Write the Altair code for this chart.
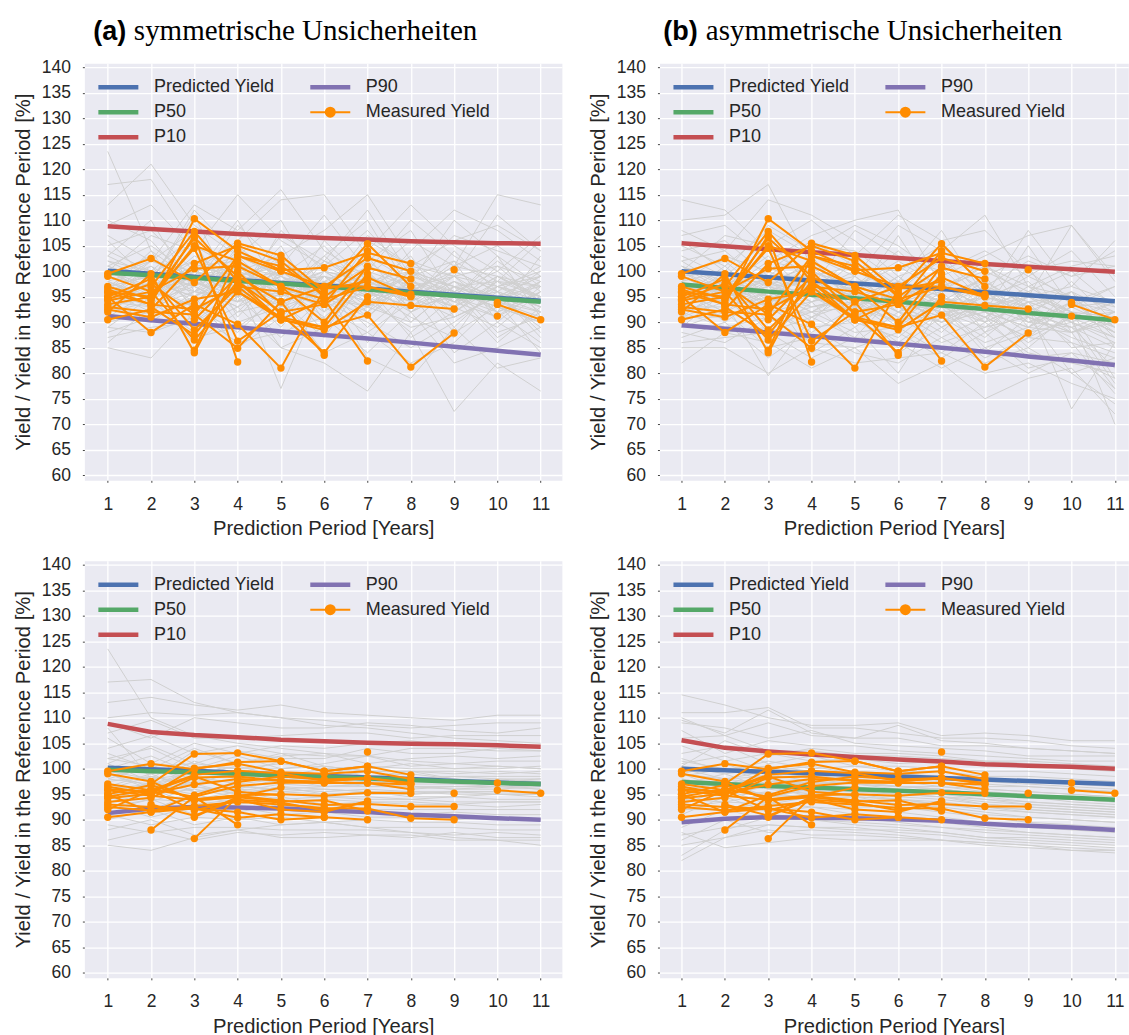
import altair as alt
import pandas as pd

YEARS = list(range(1, 12))
Y_TICKS = list(range(60, 145, 5))

# ---------------- percentile / prediction curves ----------------
PRED_A = [100.1, 99.5, 98.9, 98.3, 97.7, 97.2, 96.6, 96.0, 95.4, 94.8, 94.2]
P50_A = [99.7, 99.2, 98.7, 98.1, 97.6, 97.0, 96.4, 95.8, 95.2, 94.6, 94.0]
P10_A = [108.8, 108.3, 107.8, 107.3, 106.9, 106.5, 106.2, 105.9, 105.7, 105.5, 105.4]
P90_A = [91.2, 90.4, 89.7, 89.0, 88.2, 87.5, 86.8, 86.0, 85.2, 84.4, 83.6]

PRED_B = [100.0, 99.4, 98.8, 98.2, 97.6, 97.1, 96.5, 95.9, 95.3, 94.7, 94.1]
P50_B = [97.4, 96.7, 96.0, 95.4, 94.7, 94.0, 93.3, 92.6, 91.8, 91.1, 90.4]
P10_B = [105.5, 104.9, 104.3, 103.7, 103.2, 102.6, 102.0, 101.4, 100.9, 100.4, 99.9]
P90_B = [89.4, 88.7, 88.0, 87.3, 86.5, 85.8, 85.0, 84.2, 83.3, 82.5, 81.6]

PRED_C = [100.2, 99.9, 99.6, 99.2, 98.9, 98.6, 98.3, 98.0, 97.6, 97.3, 97.0]
P50_C = [99.8, 99.5, 99.3, 99.0, 98.7, 98.4, 98.1, 97.8, 97.5, 97.2, 97.0]
P10_C = [108.8, 107.2, 106.6, 106.2, 105.7, 105.4, 105.1, 104.9, 104.8, 104.6, 104.3]
P90_C = [91.3, 92.2, 92.5, 92.4, 92.2, 91.8, 91.5, 91.0, 90.7, 90.3, 90.0]

PRED_D = [100.0, 99.7, 99.4, 99.1, 98.8, 98.5, 98.2, 97.9, 97.6, 97.3, 97.0]
P50_D = [97.4, 97.0, 96.6, 96.3, 96.0, 95.7, 95.4, 95.0, 94.6, 94.3, 93.9]
P10_D = [105.6, 104.1, 103.4, 102.8, 102.3, 101.8, 101.4, 100.9, 100.6, 100.4, 100.0]
P90_D = [89.5, 90.2, 90.5, 90.4, 90.3, 90.1, 89.8, 89.2, 88.8, 88.5, 88.0]

# ---------------- simulated yields (grey) ----------------
SIM_A = [
    [123.5, 104, 98, 101, 95, 99, 97, 92, 96, 93, 90],
    [117, 118, 105, 100, 103, 96, 101, 98, 94, 99, 95],
    [113, 121, 109, 103, 99, 105, 96, 100, 97, 94, 98],
    [109, 113, 104, 115, 106, 101, 108, 99, 102, 97, 100],
    [107, 102, 113, 108, 116, 104, 99, 106, 101, 115, 113],
    [105, 108, 100, 106, 114, 115, 103, 98, 110, 103, 97],
    [104, 100, 107, 97, 103, 108, 115, 102, 99, 111, 104],
    [103, 110, 96, 104, 99, 94, 104, 113, 105, 100, 107],
    [102, 98, 111, 94, 108, 100, 95, 104, 112, 108, 102],
    [101, 105, 99, 110, 96, 103, 110, 96, 101, 105, 99],
    [100, 96, 103, 99, 101, 97, 102, 108, 95, 102, 96],
    [99, 103, 95, 102, 93, 106, 98, 94, 104, 96, 101],
    [98, 94, 101, 96, 105, 92, 106, 101, 99, 92, 103],
    [98, 101, 93, 105, 98, 99, 93, 97, 93, 101, 94],
    [97, 99, 106, 91, 100, 95, 100, 90, 97, 98, 92],
    [97, 95, 98, 100, 92, 102, 97, 103, 91, 95, 99],
    [96, 104, 92, 97, 104, 90, 99, 95, 102, 90, 97],
    [96, 92, 100, 103, 95, 98, 91, 99, 89, 97, 93],
    [95, 100, 97, 93, 101, 94, 103, 92, 98, 94, 100],
    [95, 97, 102, 98, 90, 100, 95, 88, 95, 103, 91],
    [94, 93, 96, 101, 97, 91, 98, 100, 93, 89, 96],
    [94, 99, 90, 95, 102, 97, 89, 96, 100, 96, 88],
    [93, 95, 99, 92, 94, 103, 96, 91, 87, 99, 94],
    [93, 91, 94, 99, 98, 88, 100, 97, 94, 91, 98],
    [92, 97, 101, 90, 93, 96, 92, 102, 96, 87, 92],
    [92, 94, 88, 97, 89, 99, 94, 89, 91, 95, 89],
    [91, 90, 96, 94, 99, 93, 88, 94, 98, 92, 86],
    [91, 96, 93, 88, 96, 90, 97, 87, 92, 98, 95],
    [90, 92, 98, 95, 87, 95, 91, 98, 88, 93, 90],
    [89, 88, 91, 100, 94, 87, 99, 93, 95, 86, 93],
    [89, 95, 86, 92, 100, 94, 90, 85, 90, 96, 87],
    [88, 91, 95, 85, 91, 98, 86, 96, 84, 90, 85],
    [87, 89, 90, 97, 85, 89, 93, 90, 97, 88, 91],
    [86, 93, 87, 89, 95, 84, 88, 82, 86, 94, 84],
    [85, 83, 92, 86, 88, 91, 84, 92, 82, 85, 89],
    [106, 98, 112, 103, 110, 96, 107, 101, 106, 109, 104],
    [110, 106, 97, 109, 101, 111, 100, 110, 103, 98, 106],
    [100, 107, 104, 96, 107, 102, 112, 99, 107, 104, 101],
    [97, 102, 108, 98, 77, 97, 83, 79, 89, 81, 83],
    [93, 98, 89, 93, 85, 82, 76.5, 88, 72.5, 82, 76.5],
    [99, 97, 101, 99, 96, 100, 98, 95, 99, 97, 95],
    [96, 100, 98, 94, 101, 97, 95, 99, 96, 93, 98],
    [101, 98, 95, 100, 97, 94, 101, 97, 94, 99, 95],
    [94, 97, 100, 98, 93, 99, 96, 93, 97, 95, 92],
    [98, 94, 97, 103, 99, 96, 93, 100, 95, 91, 96],
    [95, 101, 96, 95, 98, 101, 97, 94, 100, 96, 93],
    [100, 96, 99, 97, 94, 98, 102, 96, 93, 98, 97],
    [97, 99, 94, 100, 97, 93, 96, 99, 97, 94, 91],
    [93, 96, 99, 96, 100, 97, 94, 97, 92, 97, 94],
    [102, 100, 97, 101, 99, 95, 99, 94, 98, 95, 99],
    [96, 93, 98, 94, 96, 99, 92, 98, 95, 92, 96],
    [99, 102, 100, 97, 95, 102, 99, 96, 101, 99, 97],
    [94, 98, 95, 99, 102, 96, 97, 101, 94, 96, 93],
    [103, 99, 102, 98, 100, 97, 95, 97, 99, 101, 98],
    [97, 95, 101, 102, 96, 93, 100, 92, 96, 93, 90],
    [92, 99, 97, 93, 97, 100, 98, 95, 91, 95, 97],
    [100, 97, 93, 96, 99, 95, 93, 98, 96, 100, 94],
    [95, 102, 99, 101, 94, 98, 96, 93, 99, 94, 92],
    [98, 95, 100, 95, 98, 92, 99, 96, 93, 97, 99],
    [101, 98, 96, 99, 92, 97, 94, 100, 97, 92, 95],
]

SIM_B = [
    [114, 112, 104, 99, 101, 95, 97, 93, 96, 92, 88],
    [110, 111, 117, 101, 97, 104, 96, 98, 93, 96, 92],
    [108, 104, 114, 111, 106, 99, 102, 96, 100, 94, 97],
    [107, 109, 102, 107, 110, 112, 97, 101, 95, 109, 99],
    [105, 101, 108, 103, 99, 109, 104, 111, 97, 101, 103],
    [104, 106, 99, 105, 104, 98, 108, 95, 108, 97, 106],
    [103, 99, 106, 97, 108, 103, 100, 104, 99, 104, 95],
    [102, 104, 97, 102, 95, 107, 94, 99, 103, 99, 101],
    [101, 97, 103, 95, 102, 94, 101, 92, 105, 93, 97],
    [100, 102, 95, 100, 97, 101, 96, 102, 91, 98, 90],
    [99, 95, 101, 96, 100, 96, 103, 95, 98, 90, 94],
    [99, 100, 93, 103, 93, 99, 91, 97, 94, 95, 87],
    [98, 93, 99, 94, 98, 92, 98, 90, 101, 88, 92],
    [97, 98, 96, 99, 91, 97, 93, 99, 89, 96, 85],
    [97, 96, 92, 92, 96, 90, 99, 88, 96, 91, 90],
    [96, 92, 98, 97, 89, 95, 90, 94, 92, 86, 83],
    [96, 99, 90, 93, 94, 88, 95, 91, 87, 94, 88],
    [95, 94, 97, 90, 99, 93, 88, 96, 90, 89, 81],
    [94, 91, 94, 98, 92, 86, 92, 87, 94, 85, 86],
    [94, 97, 88, 91, 87, 96, 89, 93, 85, 92, 79],
    [93, 93, 95, 95, 95, 91, 86, 89, 91, 87, 84],
    [92, 89, 91, 89, 90, 87, 94, 85, 88, 90, 78],
    [92, 95, 87, 94, 86, 92, 87, 91, 83, 84, 82],
    [91, 91, 93, 88, 93, 85, 91, 86, 89, 88, 77],
    [90, 88, 89, 92, 88, 89, 84, 90, 84, 82, 80],
    [89, 92, 85, 87, 91, 84, 89, 83, 87, 86, 76],
    [88, 86, 91, 86, 85, 88, 83, 88, 81, 83, 79],
    [87, 90, 83, 89, 84, 82, 87, 82, 85, 80, 74],
    [86, 87, 88, 83, 87, 86, 81, 85, 80, 84, 77],
    [85, 85, 80, 85, 82, 83, 84, 80, 82, 78, 75],
    [82, 88, 86, 81, 85, 78, 82, 75, 79, 81, 72],
    [100, 107, 105, 110, 103, 111, 106, 108, 100, 102, 101],
    [106, 100, 109, 104, 109, 105, 99, 103, 107, 109, 98],
    [98, 103, 100, 106, 101, 100, 105, 97, 102, 99, 104],
    [101, 96, 102, 100, 97, 102, 97, 100, 96, 100, 93],
    [95, 101, 94, 96, 103, 97, 102, 94, 99, 95, 89],
    [93, 98, 98, 101, 94, 99, 93, 98, 93, 73, 86],
    [91, 94, 79.5, 91, 96, 93, 90, 92, 86, 91, 70],
    [97, 90, 96, 84, 89, 80, 93, 84, 91, 80, 83],
    [89, 96, 92, 98, 98, 94, 96, 101, 97, 92, 91],
    [97, 95, 99, 96, 93, 97, 94, 91, 95, 92, 89],
    [95, 98, 96, 92, 97, 94, 91, 95, 92, 89, 92],
    [99, 96, 93, 98, 95, 91, 97, 93, 90, 94, 90],
    [93, 96, 98, 95, 91, 96, 93, 90, 94, 91, 87],
    [98, 93, 96, 100, 96, 93, 90, 96, 91, 88, 91],
    [94, 99, 95, 93, 95, 98, 94, 91, 96, 92, 88],
    [100, 95, 97, 95, 92, 95, 98, 92, 89, 94, 92],
    [96, 98, 93, 97, 94, 90, 93, 95, 93, 90, 86],
    [92, 95, 97, 94, 97, 94, 91, 93, 88, 93, 89],
    [101, 98, 95, 99, 96, 92, 95, 90, 94, 91, 94],
    [96, 92, 96, 92, 93, 96, 89, 94, 91, 88, 91],
    [98, 100, 98, 95, 92, 98, 95, 92, 97, 95, 93],
    [93, 97, 94, 97, 99, 93, 93, 97, 90, 92, 88],
    [102, 97, 100, 96, 97, 94, 92, 93, 95, 97, 94],
    [96, 94, 99, 99, 93, 90, 96, 88, 92, 89, 85],
    [91, 97, 95, 91, 94, 97, 94, 91, 87, 91, 92],
    [99, 95, 92, 94, 96, 92, 90, 94, 92, 96, 89],
    [94, 100, 97, 98, 91, 95, 92, 89, 95, 90, 87],
    [97, 94, 98, 93, 95, 89, 95, 92, 89, 93, 94],
    [100, 96, 94, 97, 90, 94, 91, 96, 93, 88, 90],
]

SIM_C = [
    [123.5, 110, 106.5, 105, 104, 103, 102.5, 101.5, 101, 100.5, 100],
    [117, 117.5, 113, 111, 110, 108.5, 108, 107, 106, 105.5, 105],
    [113, 114, 112.5, 111.5, 112.5, 111, 110.5, 110, 109.5, 110.5, 110.5],
    [110, 111, 110.5, 111, 110, 109.5, 108.5, 108, 108.5, 109, 109],
    [109, 106, 110, 109, 108, 108, 109, 108.5, 107.5, 107, 108],
    [107, 109.5, 106, 106, 106.5, 107, 107, 106, 106.5, 106.5, 106.5],
    [106, 101, 105, 103, 104.5, 104, 105, 105.5, 104.5, 105, 104],
    [104, 106.5, 103, 104.5, 103, 102.5, 102.5, 104, 104, 103.5, 103.5],
    [103, 100, 104, 101, 102.5, 103, 101, 102, 102.5, 102, 102.5],
    [102, 104, 100, 102.5, 100, 101, 102.5, 100.5, 101, 101.5, 101.5],
    [101, 97.5, 101.5, 99, 101.5, 99.5, 100, 101, 100, 100.5, 100],
    [100, 102.5, 99, 100.5, 98.5, 100, 98.5, 99.5, 99.5, 99, 99.5],
    [99, 96, 100, 98, 99.5, 98, 99.5, 98, 98.5, 98.5, 98.5],
    [98, 100.5, 97, 99.5, 97, 98.5, 97.5, 97.5, 97, 97.5, 97.5],
    [97, 95, 98, 96, 98, 96.5, 97, 96, 96.5, 96.5, 96.5],
    [96.5, 99, 95.5, 97, 95.5, 96, 95.5, 95.5, 95.5, 95.5, 95.5],
    [96, 93.5, 96.5, 95, 96.5, 95, 95.5, 94.5, 94.5, 95, 94.5],
    [95, 97, 94, 95.5, 94, 94.5, 94, 94, 93.5, 93.5, 93.5],
    [94.5, 92, 95, 93, 94.5, 93, 93.5, 93, 93, 92.5, 93],
    [94, 96, 93, 94, 92.5, 93, 92, 92, 92, 92, 92],
    [93, 90.5, 92.5, 91.5, 93, 91.5, 92, 91, 91.5, 91, 91],
    [92, 94, 91, 92.5, 91, 91.5, 90.5, 90.5, 90, 90.5, 90],
    [91, 89, 90.5, 90, 90.5, 89.5, 90, 89.5, 89.5, 89, 89],
    [90, 92, 89, 90.5, 89, 89.5, 88.5, 88.5, 88.5, 88, 88],
    [89, 87.5, 88.5, 88.5, 88, 88, 88, 87.5, 87, 87.5, 87],
    [88, 90, 87, 88, 86.5, 86.5, 87, 87, 86, 86, 86],
    [86, 88, 86, 87.5, 87, 87.5, 87, 86.5, 87.5, 86.5, 86.5],
    [85, 84, 86.5, 88, 89, 89.5, 88.5, 87.5, 86.5, 86, 85],
    [108, 98, 103.5, 101, 103, 100.5, 99.5, 99.5, 98, 97, 97.5],
    [101, 104.5, 101, 103.5, 102, 102, 104, 103, 103, 104, 103.5],
    [97.5, 98.5, 97, 98, 97.5, 97, 97.5, 97, 97, 96.5, 97],
    [96, 97, 98.5, 97, 98, 97.5, 96.5, 96.5, 96, 96.5, 96],
    [99.5, 98, 99, 99.5, 98.5, 99, 98.5, 98, 98.5, 98, 98],
    [95.5, 96.5, 95, 96.5, 96, 95.5, 96, 95.5, 95, 95, 95],
    [98.5, 100, 98, 97.5, 99, 98, 98.5, 99, 98, 97.5, 98],
    [93.5, 95, 96, 94.5, 95, 94.5, 94.5, 94, 94.5, 94, 94],
    [100.5, 99, 100.5, 100, 100, 100.5, 99.5, 99.5, 99, 99.5, 99],
    [97, 95.5, 97.5, 96.5, 96, 96.5, 96.5, 96.5, 96, 96, 96.5],
    [94.5, 97.5, 95.5, 96, 95.5, 95, 95, 95, 95.5, 95, 95],
    [102, 100.5, 101, 100, 101, 100, 100.5, 100, 100, 100, 100.5],
    [92.5, 94, 93.5, 94.5, 93.5, 94, 93.5, 93.5, 93, 93.5, 93.5],
    [98, 97, 99.5, 98.5, 97.5, 98, 97, 97.5, 97.5, 97, 97.5],
    [96, 98.5, 96.5, 95.5, 97, 96.5, 97, 96.5, 96.5, 96.5, 96],
    [99, 96.5, 98, 99, 98, 97.5, 98, 98, 97.5, 98, 97.5],
    [95, 96, 97, 95, 96.5, 96, 95.5, 95, 95.5, 95.5, 95.5],
]

SIM_D = [
    [114.5, 112.5, 110, 108.5, 108.5, 109, 106.5, 107, 106.5, 105.5, 105.5],
    [111, 111, 112, 108, 108, 107, 106, 106, 105.5, 104.5, 104],
    [110, 106.5, 109, 106.5, 106, 106, 104.5, 104.5, 104, 103.5, 103],
    [109, 108, 106, 107.5, 105, 104.5, 104, 103.5, 102.5, 102.5, 102.5],
    [107.5, 103, 105.5, 104.5, 104.5, 103.5, 103, 102.5, 102, 101.5, 101.5],
    [106, 106.5, 103.5, 103.5, 102.5, 102.5, 102, 101.5, 101.5, 101, 100.5],
    [104.5, 101.5, 103, 101.5, 102, 101, 101.5, 100.5, 100.5, 100, 99.5],
    [103, 104.5, 101, 102.5, 100.5, 100.5, 100, 99.5, 99.5, 99, 98.5],
    [102, 99.5, 101.5, 100, 100.5, 99.5, 99.5, 98.5, 98.5, 98, 97.5],
    [101, 102.5, 99.5, 100.5, 99, 99, 98.5, 97.5, 97.5, 97, 96.5],
    [100, 98, 99.5, 98.5, 99, 98, 97.5, 96.5, 96.5, 96, 95.5],
    [99, 101, 98, 99, 97.5, 97.5, 96.5, 96, 95.5, 95, 94.5],
    [98, 96.5, 98, 97, 97.5, 96.5, 96, 95, 94.5, 94, 93.5],
    [97, 99, 96, 97.5, 96, 96, 95, 94, 93.5, 93, 92.5],
    [96, 95, 96.5, 95.5, 95.5, 95, 94.5, 93, 92.5, 92, 91.5],
    [95, 97.5, 94.5, 96, 94.5, 94, 93, 92.5, 91.5, 91, 90.5],
    [94, 93.5, 95, 94, 94.5, 93, 92.5, 91.5, 90.5, 90, 89.5],
    [93, 96, 93, 94.5, 93, 92.5, 91.5, 90.5, 89.5, 89, 88.5],
    [92, 92, 93.5, 92.5, 92, 91.5, 90.5, 89.5, 88.5, 88, 87.5],
    [91, 94.5, 91.5, 92.5, 91, 90.5, 89.5, 88.5, 87.5, 87, 86.5],
    [90, 90, 91, 90.5, 90.5, 89.5, 88.5, 87.5, 87, 86.5, 86],
    [88.5, 92, 90, 90, 89, 88.5, 87.5, 86.5, 86, 85.5, 85],
    [87, 88.5, 89, 88.5, 88.5, 87.5, 87, 86, 85.5, 85, 84.5],
    [86, 90, 87.5, 88, 87.5, 87, 86, 85, 84.5, 84, 83.5],
    [85, 86.5, 88, 87, 87, 86.5, 86, 85.5, 85, 84.5, 84],
    [82, 86.5, 89, 88.5, 88, 88, 87.5, 86.5, 86.5, 86, 85.5],
    [83, 88, 90.5, 90, 89.5, 89, 88.5, 88, 87.5, 87, 86.5],
    [109.5, 107, 111.5, 107, 106, 108.5, 105.5, 105, 104, 103.5, 103],
    [100.5, 105.5, 102.5, 104, 103, 103, 102.5, 101.5, 101, 100.5, 100],
    [87.5, 84.5, 85.5, 86.5, 86, 86, 86, 85.5, 85, 84, 84],
    [97.5, 98, 97, 97.5, 97, 96.5, 96, 95, 94.5, 94, 93.5],
    [96, 97, 98, 96.5, 96.5, 95.5, 95, 94.5, 93.5, 93, 92.5],
    [99, 98, 98.5, 98.5, 98, 97.5, 97, 96, 95.5, 95, 94.5],
    [95, 96, 95, 95.5, 95, 94.5, 94, 93, 92.5, 92, 91.5],
    [98.5, 100, 97.5, 97, 97.5, 96.5, 96.5, 95.5, 95, 94.5, 94],
    [93.5, 94.5, 95.5, 94, 94, 93.5, 93, 92, 91.5, 91, 90.5],
    [100.5, 99, 100, 99.5, 99, 98.5, 98, 97, 96.5, 96, 95.5],
    [96.5, 95, 97, 96, 95.5, 95, 94.5, 94, 93, 92.5, 92],
    [94.5, 97, 94.5, 95, 94.5, 94, 93.5, 92.5, 92, 91.5, 91],
    [101.5, 100, 100.5, 99.5, 99.5, 99, 98.5, 97.5, 97, 96.5, 96],
    [92.5, 93.5, 93, 93.5, 92.5, 92.5, 92, 91, 90.5, 90, 89.5],
    [98, 96.5, 99, 97.5, 97, 96.5, 96, 95, 94.5, 94, 93.5],
    [95.5, 98, 96, 95, 96, 95, 94.5, 93.5, 93, 92.5, 92],
    [99, 96, 97.5, 98, 97, 96, 95.5, 95, 94.5, 93.5, 93],
    [94, 95.5, 96.5, 94.5, 95, 94, 93, 92.5, 92, 91.5, 91],
]

# ---------------- measured yields (orange) ----------------
MEAS_TOP_START = [1, 1, 1, 1, 1, 1, 1, 1, 1, 1, 1, 1, 2, 1, 1, 2, 3, 3, 9, 10, 10, 10, 2, 1]
MEAS_TOP_VALUES = [
    [92.5, 91.0, 94.5, 96.0, 91.0, 89.0, 91.4, 81.2, 87.9],
    [95.8, 93.5, 92.5, 97.0, 90.5, 88.5, 94.0, 93.3, 92.6],
    [99.5, 102.5, 97.8, 105.5, 103.1, 96.0, 105.4, 97.0],
    [96.5, 93.5, 110.3, 104.0, 100.2, 100.7, 103.6, 101.5],
    [93.5, 95.0, 106.5, 99.0, 94.0, 97.0, 102.6, 100.0],
    [90.5, 92.5, 101.5, 105.0, 102.0, 95.0, 100.7, 98.5],
    [95.0, 98.5, 88.5, 97.0, 96.0, 93.5, 98.8, 95.1],
    [94.2, 96.0, 100.5, 101.0, 97.0, 94.5, 96.9, 95.5],
    [99.0, 96.0, 86.5, 96.0, 90.5, 94.5, 82.4],
    [92.0, 99.5, 84.0, 100.0, 91.5, 84.0, 95.0],
    [97.0, 94.5, 105.0, 102.0, 97.0, 90.0, 101.0],
    [95.0, 88.0, 93.5, 89.6, 81.0, 96.5, 98.0],
    [97.0, 107.8, 98.0, 92.0, 93.5, 104.0],
    [93.0, 92.0, 91.5, 84.9, 94.0, 83.5],
    [96.0, 95.0, 104.5, 86.3, 92.0],
    [94.0, 107.0, 82.2],
    [84.5, 103.0, 101.0, 95.5],
    [90.5, 99.0],
    [100.3],
    [93.5, 90.5],
    [91.2],
    [93.9],
    [93.0, 87.5, 98.0, 90.5, 89.0, 99.5],
    [94.5, 97.5, 91.5, 103.0, 100.0, 97.0, 97.0, 95.0],
]

MEAS_BOT_START = [1, 1, 1, 1, 1, 1, 1, 1, 1, 1, 1, 1, 2, 1, 1, 2, 3, 3, 9, 10, 10, 2, 1, 7]
MEAS_BOT_VALUES = [
    [92.5, 91.8, 92.7, 93.5, 93.0, 92.3, 92.2, 90.3, 90.0],
    [95.8, 94.7, 93.9, 94.7, 93.8, 92.9, 93.1, 92.6, 92.6],
    [99.5, 101.0, 99.9, 101.3, 101.5, 99.5, 100.5, 98.8],
    [96.5, 95.0, 100.1, 101.0, 99.3, 99.0, 99.5, 98.0],
    [93.5, 94.3, 98.3, 98.5, 97.6, 97.5, 98.2, 97.0],
    [90.5, 91.5, 94.8, 97.4, 98.5, 97.9, 98.2, 97.2],
    [95.0, 96.8, 94.0, 94.8, 95.0, 94.7, 95.3, 95.2],
    [94.2, 95.1, 96.9, 98.0, 97.8, 97.3, 97.2, 96.0],
    [99.0, 97.5, 93.8, 94.4, 93.6, 93.8, 91.7],
    [92.0, 95.8, 91.8, 93.9, 93.4, 91.8, 93.5],
    [97.0, 95.8, 98.8, 99.6, 99.1, 97.6, 98.1],
    [95.0, 91.5, 92.2, 91.5, 90.0, 90.5, 90.0],
    [97.0, 102.9, 103.1, 101.5, 99.5, 100.5],
    [93.0, 92.5, 92.2, 90.4, 91.1, 90.5],
    [96.0, 95.5, 98.5, 95.5, 94.8],
    [88.0, 94.5, 89.0],
    [86.3, 94.5, 96.3],
    [90.5, 94.5],
    [95.2],
    [95.8, 95.2],
    [97.2],
    [93.0, 90.8, 94.0, 92.0, 91.5, 93.7],
    [94.5, 96.0, 94.5, 96.6, 97.3, 97.2, 97.2, 96.9],
    [103.3],
]

KEYS = ["Predicted Yield", "P50", "P10", "P90", "Measured Yield"]
KEY_COLORS = ["#4C72B0", "#55A868", "#C44E52", "#8172B2", "#FF8C00"]
ORANGE = "#FF8C00"
GREY = "#d0d0d0"
Y_TITLE = "Yield / Yield in the Reference Period [%]"
X_TITLE = "Prediction Period [Years]"

PLOT_W_L = 477.7
PLOT_W_R = 469
PLOT_H = 417.3


def sim_frame(rows):
    recs = []
    for i, r in enumerate(rows):
        for yr, v in zip(YEARS, r):
            recs.append({"sim": i, "year": yr, "value": v})
    return pd.DataFrame(recs)


def meas_frame(starts, vals):
    recs = []
    for i, (s, r) in enumerate(zip(starts, vals)):
        for j, v in enumerate(r):
            recs.append({"sid": i, "year": s + j, "value": v})
    return pd.DataFrame(recs)


def pct_frame(pred, p50, p10, p90):
    recs = []
    for key, arr in [("Predicted Yield", pred), ("P50", p50), ("P10", p10), ("P90", p90)]:
        for yr, v in zip(YEARS, arr):
            recs.append({"key": key, "year": yr, "value": v})
    return pd.DataFrame(recs)


MEAS_SHAPE = "M-2,0H2M-0.45,0A0.45,0.45,0,1,1,0.45,0A0.45,0.45,0,1,1,-0.45,0Z"
LINE_SHAPE = "M-2,0H2"
IS_MEAS = "datum.value === 'Measured Yield'"


def make_panel(sims, mstarts, mvals, pcts, xdom, width, title=None):
    xs = alt.Scale(domain=xdom, nice=False, zero=False)
    ys = alt.Scale(domain=[59, 140.8], nice=False, zero=False)
    X = alt.X("year:Q", scale=xs,
              axis=alt.Axis(values=YEARS, title=X_TITLE, format="d"))
    Y = alt.Y("value:Q", scale=ys,
              axis=alt.Axis(values=Y_TICKS, title=Y_TITLE, format="d"))

    legend = alt.Legend(
        orient="none", legendX=25, legendY=15, columns=2, title=None,
        columnPadding=26, rowPadding=7, labelFontSize=18,
        labelFont="Liberation Sans", labelColor="#262626", labelLimit=0,
        symbolSize=400, labelOffset=26.6,
        symbolType={"expr": "%s ? '%s' : '%s'" % (IS_MEAS, MEAS_SHAPE, LINE_SHAPE)},
        symbolStrokeWidth={"expr": "%s ? 2 : 4.5" % IS_MEAS},
        symbolFillColor={"expr": "%s ? '%s' : 'transparent'" % (IS_MEAS, ORANGE)},
    )

    grey = alt.Chart(sim_frame(sims)).mark_line(color=GREY, strokeWidth=1).encode(
        x=X, y=Y, detail="sim:N")
    pct = alt.Chart(pct_frame(*pcts)).mark_line(strokeWidth=4.5).encode(
        x=X, y=Y,
        color=alt.Color("key:N", scale=alt.Scale(domain=KEYS, range=KEY_COLORS), legend=legend))
    mdf = meas_frame(mstarts, mvals)
    mline = alt.Chart(mdf).mark_line(color=ORANGE, strokeWidth=2).encode(
        x=X, y=Y, detail="sid:N")
    mpts = alt.Chart(mdf).mark_circle(color=ORANGE, size=55, opacity=1).encode(x=X, y=Y)

    layers = [grey, pct, mline, mpts]
    if title is not None:
        lab, rest, x1, x2 = title
        t1 = alt.Chart(pd.DataFrame({"t": [lab]})).mark_text(
            font="Liberation Sans", fontWeight="bold", fontSize=27, align="left",
            baseline="alphabetic", color="black").encode(
            text="t:N", x=alt.value(x1), y=alt.value(-23))
        t2 = alt.Chart(pd.DataFrame({"t": [rest]})).mark_text(
            font="Liberation Serif", fontSize=29, align="left",
            baseline="alphabetic", color="black").encode(
            text="t:N", x=alt.value(x2), y=alt.value(-23))
        layers += [t1, t2]
    return alt.layer(*layers).properties(width=width, height=PLOT_H)


pa = make_panel(SIM_A, MEAS_TOP_START, MEAS_TOP_VALUES, (PRED_A, P50_A, P10_A, P90_A),
                [0.46, 11.49], PLOT_W_L, ("(a)", "symmetrische Unsicherheiten", 8.8, 49.5))
pb = make_panel(SIM_B, MEAS_TOP_START, MEAS_TOP_VALUES, (PRED_B, P50_B, P10_B, P90_B),
                [0.49, 11.31], PLOT_W_R, ("(b)", "asymmetrische Unsicherheiten", 3.8, 46.4))
pc = make_panel(SIM_C, MEAS_BOT_START, MEAS_BOT_VALUES, (PRED_C, P50_C, P10_C, P90_C),
                [0.46, 11.49], PLOT_W_L)
pd_ = make_panel(SIM_D, MEAS_BOT_START, MEAS_BOT_VALUES, (PRED_D, P50_D, P10_D, P90_D),
                 [0.49, 11.31], PLOT_W_R)

chart = alt.ConcatChart(
    concat=[pa, pb, pc, pd_], columns=2,
    spacing=alt.RowColnumber(row=79.7, column=97.3), bounds="flush",
).resolve_scale(color="independent").resolve_legend(color="independent").properties(
    padding={"left": 12.4, "top": 16, "right": 0, "bottom": 0}
).configure_view(fill="#EAEAF2", stroke="transparent").configure_axis(
    labelFont="Liberation Sans", labelFontSize=17.5, labelColor="#262626",
    titleFont="Liberation Sans", titleFontSize=20.2, titleFontWeight="normal",
    titleColor="#262626", gridColor="white", gridWidth=1.3, domain=False,
    tickColor="#444444", tickSize=2, tickWidth=1,
).configure_axisX(labelPadding=13, titlePadding=6).configure_axisY(
    labelPadding=12, titlePadding=8)

chart.save("out.html", embed_options={"renderer": "svg", "actions": False})
